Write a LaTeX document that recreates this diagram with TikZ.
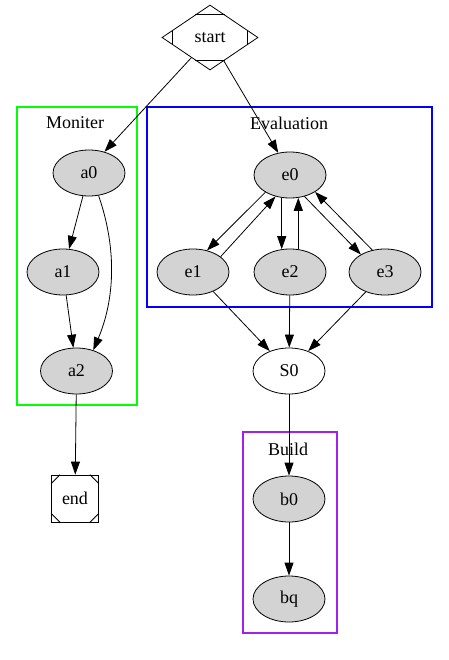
\documentclass[tikz,border=0pt]{standalone}
\usepackage{fontspec}
\setmainfont{Liberation Serif}
\usetikzlibrary{shapes.geometric,arrows.meta,calc}
\definecolor{gvgray}{RGB}{211,211,211}
\definecolor{gvpurple}{RGB}{160,32,240}
\definecolor{gvgreen}{RGB}{0,255,0}
\definecolor{gvblue}{RGB}{0,0,255}
\begin{document}
\begin{tikzpicture}[x=1pt,y=-1pt,
  every node/.style={font=\fontsize{18}{21}\selectfont},
  st/.style={ellipse,draw,line width=0.8pt,fill=gvgray,minimum width=72pt,minimum height=46pt,inner sep=0pt},
  wst/.style={st,fill=white},
  edge/.style={line width=0.8pt,-{Triangle[length=13pt,width=9pt]}},
  clus/.style={line width=1.1pt},
  clab/.style={inner sep=0pt}
]
\useasboundingbox (0,0) rectangle (448,660);
\fill[white] (0,0) rectangle (448,660);

% clusters
\draw[clus,color=gvgreen] (17,107) rectangle (137,405);
\node[clab] (lM) at (75,123) {Moniter};
\draw[clus,color=gvblue] (147,107) rectangle (432,307);
\node[clab] (lE) at (289,123) {Evaluation};
\draw[clus,color=gvpurple] (243,432) rectangle (337,633);
\node[clab] (lB) at (288,449) {Build};

% nodes
\node[diamond,draw,line width=0.8pt,minimum width=96pt,minimum height=65pt,aspect=1.477,inner sep=0pt] (start) at (210,37.5) {start};
\draw[line width=0.8pt] ($(start.north)+(-15,10)$) -- ($(start.north)+(15,10)$)
  ($(start.south)+(-15,-10)$) -- ($(start.south)+(15,-10)$)
  ($(start.west)+(11,-7.4)$) -- ($(start.west)+(11,7.4)$)
  ($(start.east)+(-11,-7.4)$) -- ($(start.east)+(-11,7.4)$);

\node[st] (a0) at (89,173) {a0};
\node[st] (a1) at (63,272) {a1};
\node[st] (a2) at (76.5,371) {a2};
\node[draw,line width=0.8pt,minimum size=47pt,inner sep=0pt] (end) at (75,498.5) {end};
\draw[line width=0.8pt] ($(end.north west)+(9,0)$) -- ($(end.north west)+(0,9)$)
  ($(end.north east)+(-9,0)$) -- ($(end.north east)+(0,9)$)
  ($(end.south west)+(9,0)$) -- ($(end.south west)+(0,-9)$)
  ($(end.south east)+(-9,0)$) -- ($(end.south east)+(0,-9)$);

\node[st] (e0) at (290,175) {e0};
\node[st] (e1) at (193,272) {e1};
\node[st] (e2) at (290,272) {e2};
\node[st] (e3) at (385,272) {e3};
\node[wst] (S0) at (289,371) {S0};
\node[st] (b0) at (289,499) {b0};
\node[st] (bq) at (289,599) {bq};

% edges
\draw[edge] (start) -- (a0.54);
\draw[edge] (start) -- (e0.118);
\draw[edge] (a0) -- (a1);
\draw[edge] (a1) -- (a2);
\draw[edge] (a0.-67) .. controls +(19,55) and +(21,-50) .. (a2.51);
\draw[edge] (a2) -- (end);

\draw[edge] (e0.215) -- (e1.57);
\draw[edge] (e1.29) -- (e0.236);
\draw[edge] (e0.250) -- (e2.110);
\draw[edge] (e2.70) -- (e0.290);
\draw[edge] (e0.304) -- (e3.144);
\draw[edge] (e3.120) -- (e0.326);

\draw[edge] (e1.-44) -- (S0.134);
\draw[edge] (e2) -- (S0);
\draw[edge] (e3.226) -- (S0.46);
\draw[edge] (S0) -- (b0);
\draw[edge] (b0) -- (bq);
\end{tikzpicture}
\end{document}
